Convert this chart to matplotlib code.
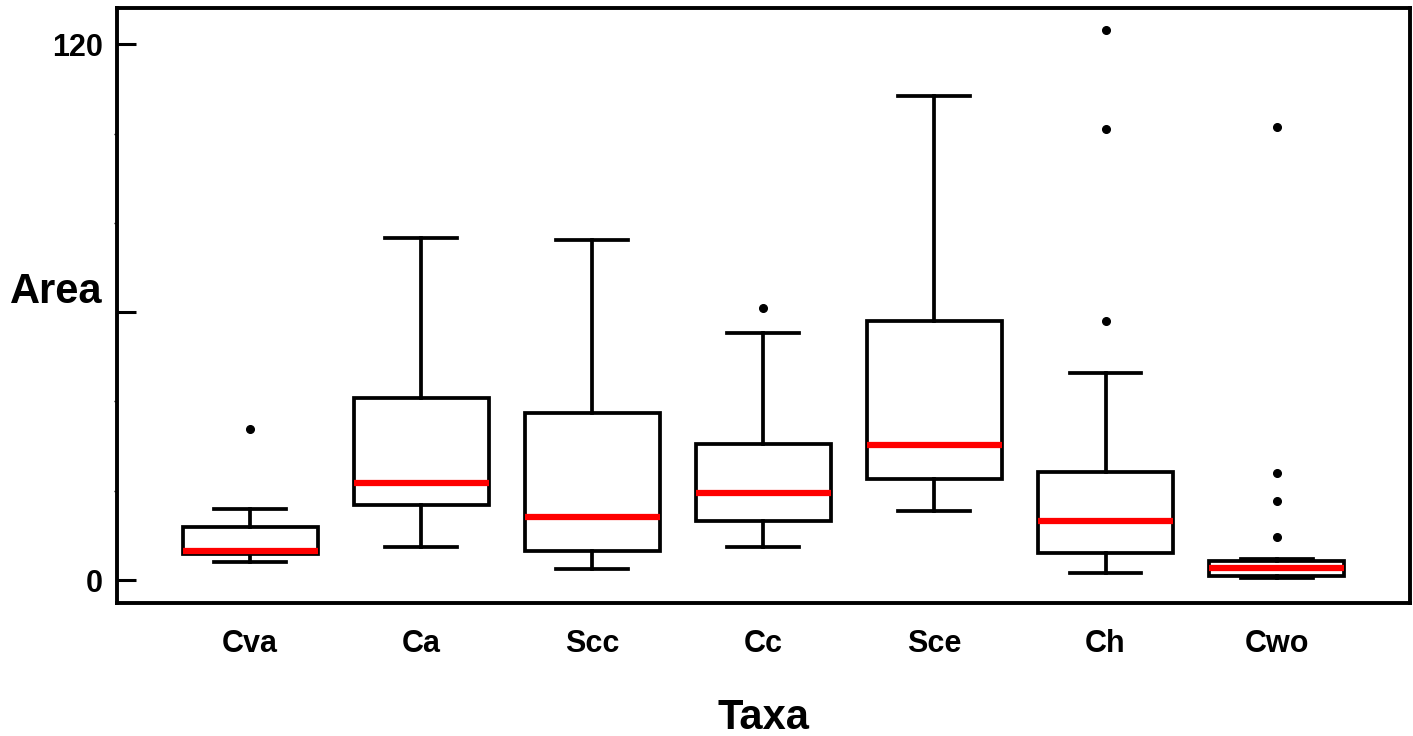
import matplotlib.pyplot as plt
import matplotlib.ticker as ticker

plt.rcParams["font.family"] = ["Liberation Sans", "DejaVu Sans"]
plt.rcParams["font.weight"] = "bold"

taxa = ["Cva", "Ca", "Scc", "Cc", "Sce", "Ch", "Cwo"]
whisker_low = [4.0, 7.4, 2.5, 7.4, 15.4, 1.6, 0.4]
q1 = [5.8, 16.8, 6.5, 13.2, 22.6, 6.0, 0.9]
medians = [6.4, 21.7, 14.1, 19.5, 30.2, 13.2, 2.8]
q3 = [11.9, 40.7, 37.4, 30.4, 58.0, 24.2, 4.3]
whisker_high = [15.9, 76.6, 76.1, 55.3, 108.4, 46.3, 4.8]
outliers = [
    [33.8],
    [],
    [],
    [60.9],
    [],
    [123.1, 101.0, 58.0],
    [101.4, 24.0, 17.7, 9.6],
]

stats = []
for i, name in enumerate(taxa):
    stats.append(
        {
            "label": name,
            "whislo": whisker_low[i],
            "q1": q1[i],
            "med": medians[i],
            "q3": q3[i],
            "whishi": whisker_high[i],
            "fliers": outliers[i],
        }
    )

fig = plt.figure(figsize=(14.13, 7.36), dpi=100)
ax = fig.add_axes([0.0828, 0.1807, 0.9151, 0.8083])

_lw = 2.7
ax.bxp(
    stats,
    positions=range(1, len(taxa) + 1),
    widths=0.79,
    capwidths=0.42,
    patch_artist=True,
    showfliers=True,
    boxprops=dict(facecolor="white", edgecolor="black", linewidth=_lw),
    whiskerprops=dict(color="black", linewidth=_lw),
    capprops=dict(color="black", linewidth=_lw),
    medianprops=dict(color="#ff0000", linewidth=4.5, solid_capstyle="butt"),
    flierprops=dict(marker="o", markerfacecolor="black", markeredgecolor="black",
                    markersize=5.5),
)

ax.set_xlim(0.222, 7.78)
ax.set_ylim(-5.15, 128.1)

for s in ax.spines.values():
    s.set_linewidth(2.8)

ax.yaxis.set_major_locator(ticker.FixedLocator([0, 60, 120]))
ax.yaxis.set_major_formatter(
    ticker.FuncFormatter(lambda v, _: f"{v:.0f}" if v in (0, 120) else "")
)
ax.yaxis.set_minor_locator(ticker.MultipleLocator(20))
ax.tick_params(axis="y", which="major", direction="in", length=14, width=2.2,
               labelsize=22, pad=10)
ax.tick_params(axis="y", which="minor", direction="out", length=2, width=1)
ax.tick_params(axis="x", which="both", length=0, labelsize=22, pad=19)
for lab in ax.get_xticklabels() + ax.get_yticklabels():
    lab.set_fontweight("bold")

ax.set_ylabel("Area", fontsize=30, fontweight="bold", rotation=0,
              ha="right", va="center")
ax.yaxis.set_label_coords(-0.011, 0.523)
ax.set_xlabel("Taxa", fontsize=30, fontweight="bold", va="center")
ax.xaxis.set_label_coords(0.5, -0.193)

fig.savefig("out.png", dpi=100)
